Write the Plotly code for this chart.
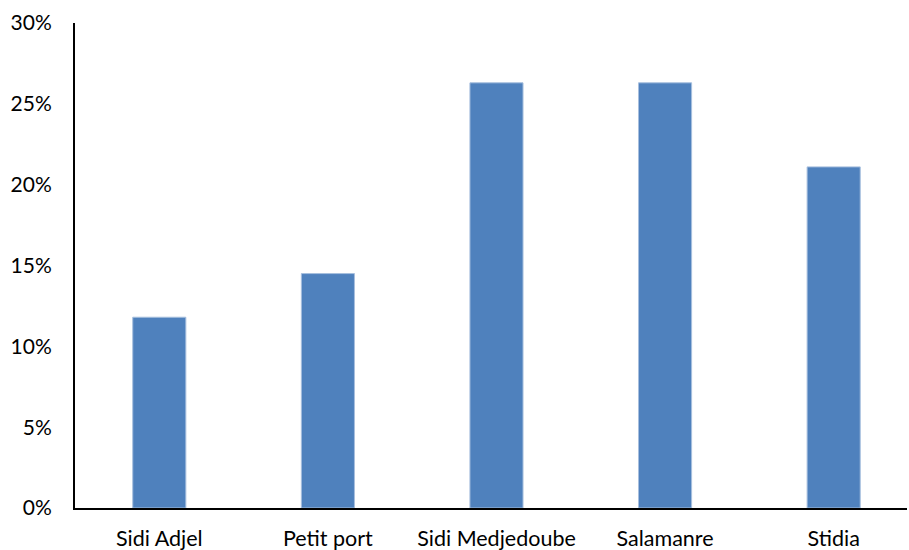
import plotly.graph_objects as go

categories = ["Sidi Adjel", "Petit port", "Sidi Medjedoube", "Salamanre", "Stidia"]
values = [0.118, 0.145, 0.263, 0.263, 0.211]
tick_vals = [0, 0.05, 0.10, 0.15, 0.20, 0.25, 0.30]
tick_text = ["0%", "5%", "10%", "15%", "20%", "25%", "30%"]

fig = go.Figure(
    go.Bar(
        x=categories,
        y=values,
        width=0.315,
        marker=dict(color="#4F81BD", line=dict(color="#A7BFDE", width=1)),
    )
)

fig.update_layout(
    width=909,
    height=550,
    margin=dict(l=75, r=2, t=23, b=42, autoexpand=False),
    paper_bgcolor="white",
    plot_bgcolor="white",
    showlegend=False,
    font=dict(family="Lato, Open Sans, sans-serif", size=21, color="#000000"),
)
fig.update_xaxes(
    type="category",
    range=[-0.5, 4.435],
    showline=True,
    linecolor="#000000",
    linewidth=2,
    ticks="",
    showgrid=False,
    automargin=False,
    ticklabelstandoff=10,
    tickfont=dict(size=21.5),
)
fig.update_yaxes(
    range=[0, 0.30],
    tickvals=tick_vals,
    ticktext=tick_text,
    showline=True,
    linecolor="#000000",
    linewidth=2,
    ticks="",
    showgrid=False,
    zeroline=False,
    automargin=False,
    ticklabelstandoff=17,
)

fig.write_html(
    "out.html",
    config={"displayModeBar": False},
    post_script="document.body.style.margin='0';document.body.style.padding='0';",
)
